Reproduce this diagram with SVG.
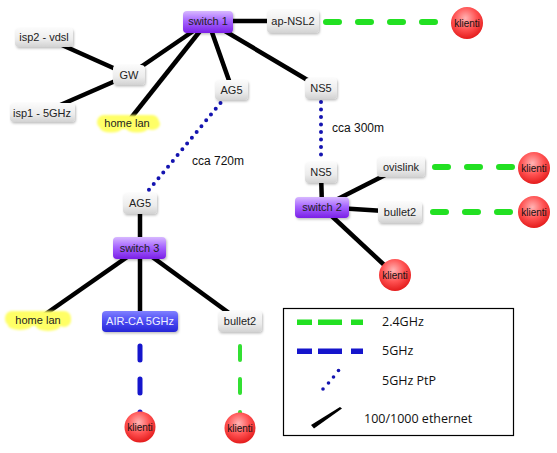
<svg xmlns="http://www.w3.org/2000/svg" width="557" height="453" viewBox="0 0 557 453">
<defs>
<linearGradient id="gGray" x1="0" y1="0" x2="0" y2="1"><stop offset="0" stop-color="#fbfbfb"/><stop offset="0.6" stop-color="#ececec"/><stop offset="1" stop-color="#d2d2d2"/></linearGradient>
<linearGradient id="gPurple" x1="0" y1="0" x2="0" y2="1"><stop offset="0" stop-color="#d7b8ff"/><stop offset="0.45" stop-color="#a766ff"/><stop offset="1" stop-color="#7a1fe6"/></linearGradient>
<linearGradient id="gBlue" x1="0" y1="0" x2="0" y2="1"><stop offset="0" stop-color="#8080ff"/><stop offset="0.5" stop-color="#4a4af2"/><stop offset="1" stop-color="#2626d6"/></linearGradient>
<radialGradient id="gRed" cx="0.45" cy="0.35" r="0.65"><stop offset="0" stop-color="#ffb4b4"/><stop offset="0.55" stop-color="#ff5252"/><stop offset="1" stop-color="#e41c1c"/></radialGradient>
<filter id="sh" x="-20%" y="-20%" width="140%" height="150%"><feDropShadow dx="1" dy="1.5" stdDeviation="1" flood-color="#000" flood-opacity="0.25"/></filter>
<filter id="soft" x="-10%" y="-30%" width="120%" height="160%"><feGaussianBlur stdDeviation="0.9"/></filter>
</defs>
<style>
.box{fill:url(#gGray);filter:url(#sh)}
.sw{fill:url(#gPurple);filter:url(#sh)}
.ap{fill:url(#gBlue);filter:url(#sh)}
.cl{fill:url(#gRed)}
.cloud{fill:#ffff66;filter:url(#soft)}
.t{font-family:"Liberation Sans",Arial,sans-serif;font-size:11px;fill:#222;text-anchor:middle}
.tw{fill:#f0f0ff}
.tk{font-size:10px;fill:#111}
.eth{stroke:#000;stroke-width:4.5;fill:none}
.g24{stroke:#22e022;stroke-width:6;stroke-linecap:round;stroke-dasharray:13 19;fill:none}
.g5{stroke:#1515cc;stroke-width:5;stroke-linecap:round;stroke-dasharray:14 19;fill:none}
.gv{stroke:#33e033;stroke-width:4;stroke-linecap:round;stroke-dasharray:14 19;fill:none}
.ptp{stroke:#1414b0;stroke-width:4;stroke-linecap:round;stroke-dasharray:0 7.5;fill:none}
.lbl{font-family:"Liberation Sans",Arial,sans-serif;font-size:12px;fill:#111}
.leg{font-family:"Open Sans","Liberation Sans",sans-serif;font-size:12.5px;fill:#111}
</style>
<rect width="557" height="453" fill="#fff"/>
<g id="connectors">
<line class="eth" x1="208" y1="21" x2="293" y2="21"/>
<line class="eth" x1="208" y1="21" x2="129" y2="75"/>
<line class="eth" x1="208" y1="21" x2="127" y2="123"/>
<line class="eth" x1="208" y1="21" x2="232" y2="89"/>
<line class="eth" x1="208" y1="21" x2="321" y2="88"/>
<line class="eth" x1="129" y1="75" x2="44" y2="37"/>
<line class="eth" x1="129" y1="75" x2="42" y2="113"/>
<line class="eth" x1="321" y1="172" x2="322" y2="207"/>
<line class="eth" x1="322" y1="207" x2="401" y2="167"/>
<line class="eth" x1="322" y1="207" x2="400" y2="212"/>
<line class="eth" x1="322" y1="207" x2="395" y2="275"/>
<line class="eth" x1="140" y1="203" x2="140" y2="248"/>
<line class="eth" x1="140" y1="248" x2="37" y2="320"/>
<line class="eth" x1="140" y1="248" x2="140" y2="321"/>
<line class="eth" x1="140" y1="248" x2="240" y2="321"/>
<line class="g24" x1="326" y1="22" x2="435" y2="22"/>
<line class="g24" x1="435" y1="167" x2="512" y2="167"/>
<line class="g24" x1="433" y1="212" x2="512" y2="212"/>
<line class="ptp" x1="321" y1="102" x2="321" y2="160"/>
<line class="ptp" x1="220.5" y1="103" x2="148" y2="191"/>
<line class="g5" x1="140" y1="346" x2="140" y2="427"/>
<line class="gv" x1="240" y1="346" x2="240" y2="428"/>
</g>
<g id="switch1"><rect class="sw" x="183" y="11" width="50" height="22" rx="4"/><text class="t" x="208" y="25">switch 1</text></g>
<g id="ap-nsl2"><rect class="box" x="267" y="10" width="52" height="23" rx="4"/><text class="t" x="293" y="25">ap-NSL2</text></g>
<g id="klienti-top"><circle class="cl" cx="467" cy="23" r="16"/><text class="t tk" x="467" y="27">klienti</text></g>
<g id="isp2"><rect class="box" x="15" y="28" width="58" height="19" rx="4"/><text class="t" x="44" y="41">isp2 - vdsl</text></g>
<g id="gw"><rect class="box" x="113" y="65" width="32" height="20" rx="4"/><text class="t" x="129" y="79">GW</text></g>
<g id="isp1"><rect class="box" x="10" y="103" width="65" height="19" rx="4"/><text class="t" x="42" y="117">isp1 - 5GHz</text></g>
<g id="homelan1"><g class="cloud"><rect x="97" y="115" width="62" height="14" rx="7"/><ellipse cx="111" cy="128" rx="11" ry="4.5"/><ellipse cx="137" cy="128" rx="11" ry="4.5"/><ellipse cx="152" cy="124" rx="8" ry="6"/></g><text class="t" x="127" y="127">home lan</text></g>
<g id="ag5-top"><rect class="box" x="215" y="80" width="33" height="20" rx="4"/><text class="t" x="231.5" y="94">AG5</text></g>
<g id="ns5-top"><rect class="box" x="305" y="78" width="32" height="21" rx="4"/><text class="t" x="321" y="92">NS5</text></g>
<text class="lbl" x="332" y="132">cca 300m</text>
<text class="lbl" x="192" y="165">cca 720m</text>
<g id="ns5-low"><rect class="box" x="305" y="162" width="32" height="21" rx="4"/><text class="t" x="321" y="176">NS5</text></g>
<g id="switch2"><rect class="sw" x="295" y="197" width="54" height="21" rx="4"/><text class="t" x="322" y="211">switch 2</text></g>
<g id="ovislink"><rect class="box" x="377" y="157" width="48" height="20" rx="4"/><text class="t" x="401" y="171">ovislink</text></g>
<g id="bullet2-r"><rect class="box" x="378" y="202" width="44" height="21" rx="4"/><text class="t" x="400" y="216">bullet2</text></g>
<g id="klienti-r1"><circle class="cl" cx="534" cy="168" r="16"/><text class="t tk" x="534" y="172">klienti</text></g>
<g id="klienti-r2"><circle class="cl" cx="534" cy="212" r="16"/><text class="t tk" x="534" y="216">klienti</text></g>
<g id="klienti-s2"><circle class="cl" cx="395" cy="275" r="16"/><text class="t tk" x="395" y="279">klienti</text></g>
<g id="ag5-low"><rect class="box" x="123" y="193" width="34" height="21" rx="4"/><text class="t" x="140" y="207">AG5</text></g>
<g id="switch3"><rect class="sw" x="113" y="237" width="53" height="22" rx="4"/><text class="t" x="139.5" y="252">switch 3</text></g>
<g id="homelan2"><g class="cloud"><rect x="5" y="311" width="66" height="15" rx="7"/><ellipse cx="20" cy="325" rx="12" ry="5"/><ellipse cx="48" cy="326" rx="12" ry="5"/><ellipse cx="64" cy="320" rx="7" ry="7"/></g><text class="t" x="38" y="324">home lan</text></g>
<g id="air-ca"><rect class="ap" x="102" y="311" width="76" height="21" rx="4"/><text class="t tw" x="140" y="325" font-size="10.5">AIR-CA 5GHz</text></g>
<g id="bullet2-low"><rect class="box" x="218" y="311" width="44" height="21" rx="4"/><text class="t" x="240" y="325">bullet2</text></g>
<g id="klienti-l1"><circle class="cl" cx="140" cy="427" r="15.5"/><text class="t tk" x="140" y="431">klienti</text></g>
<g id="klienti-l2"><circle class="cl" cx="240" cy="428" r="15.5"/><text class="t tk" x="240" y="432">klienti</text></g>
<g id="legend">
<rect x="283.5" y="308.5" width="230" height="127" fill="#fff" stroke="#000" stroke-width="1.2"/>
<g fill="#22e022"><rect x="297" y="319.5" width="15" height="5.5"/><rect x="318" y="319.5" width="24" height="5.5"/><rect x="351" y="319.5" width="12" height="5.5"/></g>
<text class="leg" x="382" y="326">2.4GHz</text>
<g fill="#1515cc"><rect x="297" y="348.5" width="15" height="5.5"/><rect x="318" y="348.5" width="24" height="5.5"/><rect x="351" y="348.5" width="12" height="5.5"/></g>
<text class="leg" x="382" y="355">5GHz</text>
<g fill="#1414b0"><circle cx="323" cy="389" r="1.8"/><circle cx="328.5" cy="383" r="1.8"/><circle cx="333.5" cy="377" r="1.8"/><circle cx="338.5" cy="370.5" r="1.8"/></g>
<text class="leg" x="382" y="385">5GHz PtP</text>
<polygon points="311,425 340,407 342,408.5 314,428.5" fill="#000"/>
<text class="leg" x="364" y="423">100/1000 ethernet</text>
</g>
</svg>
